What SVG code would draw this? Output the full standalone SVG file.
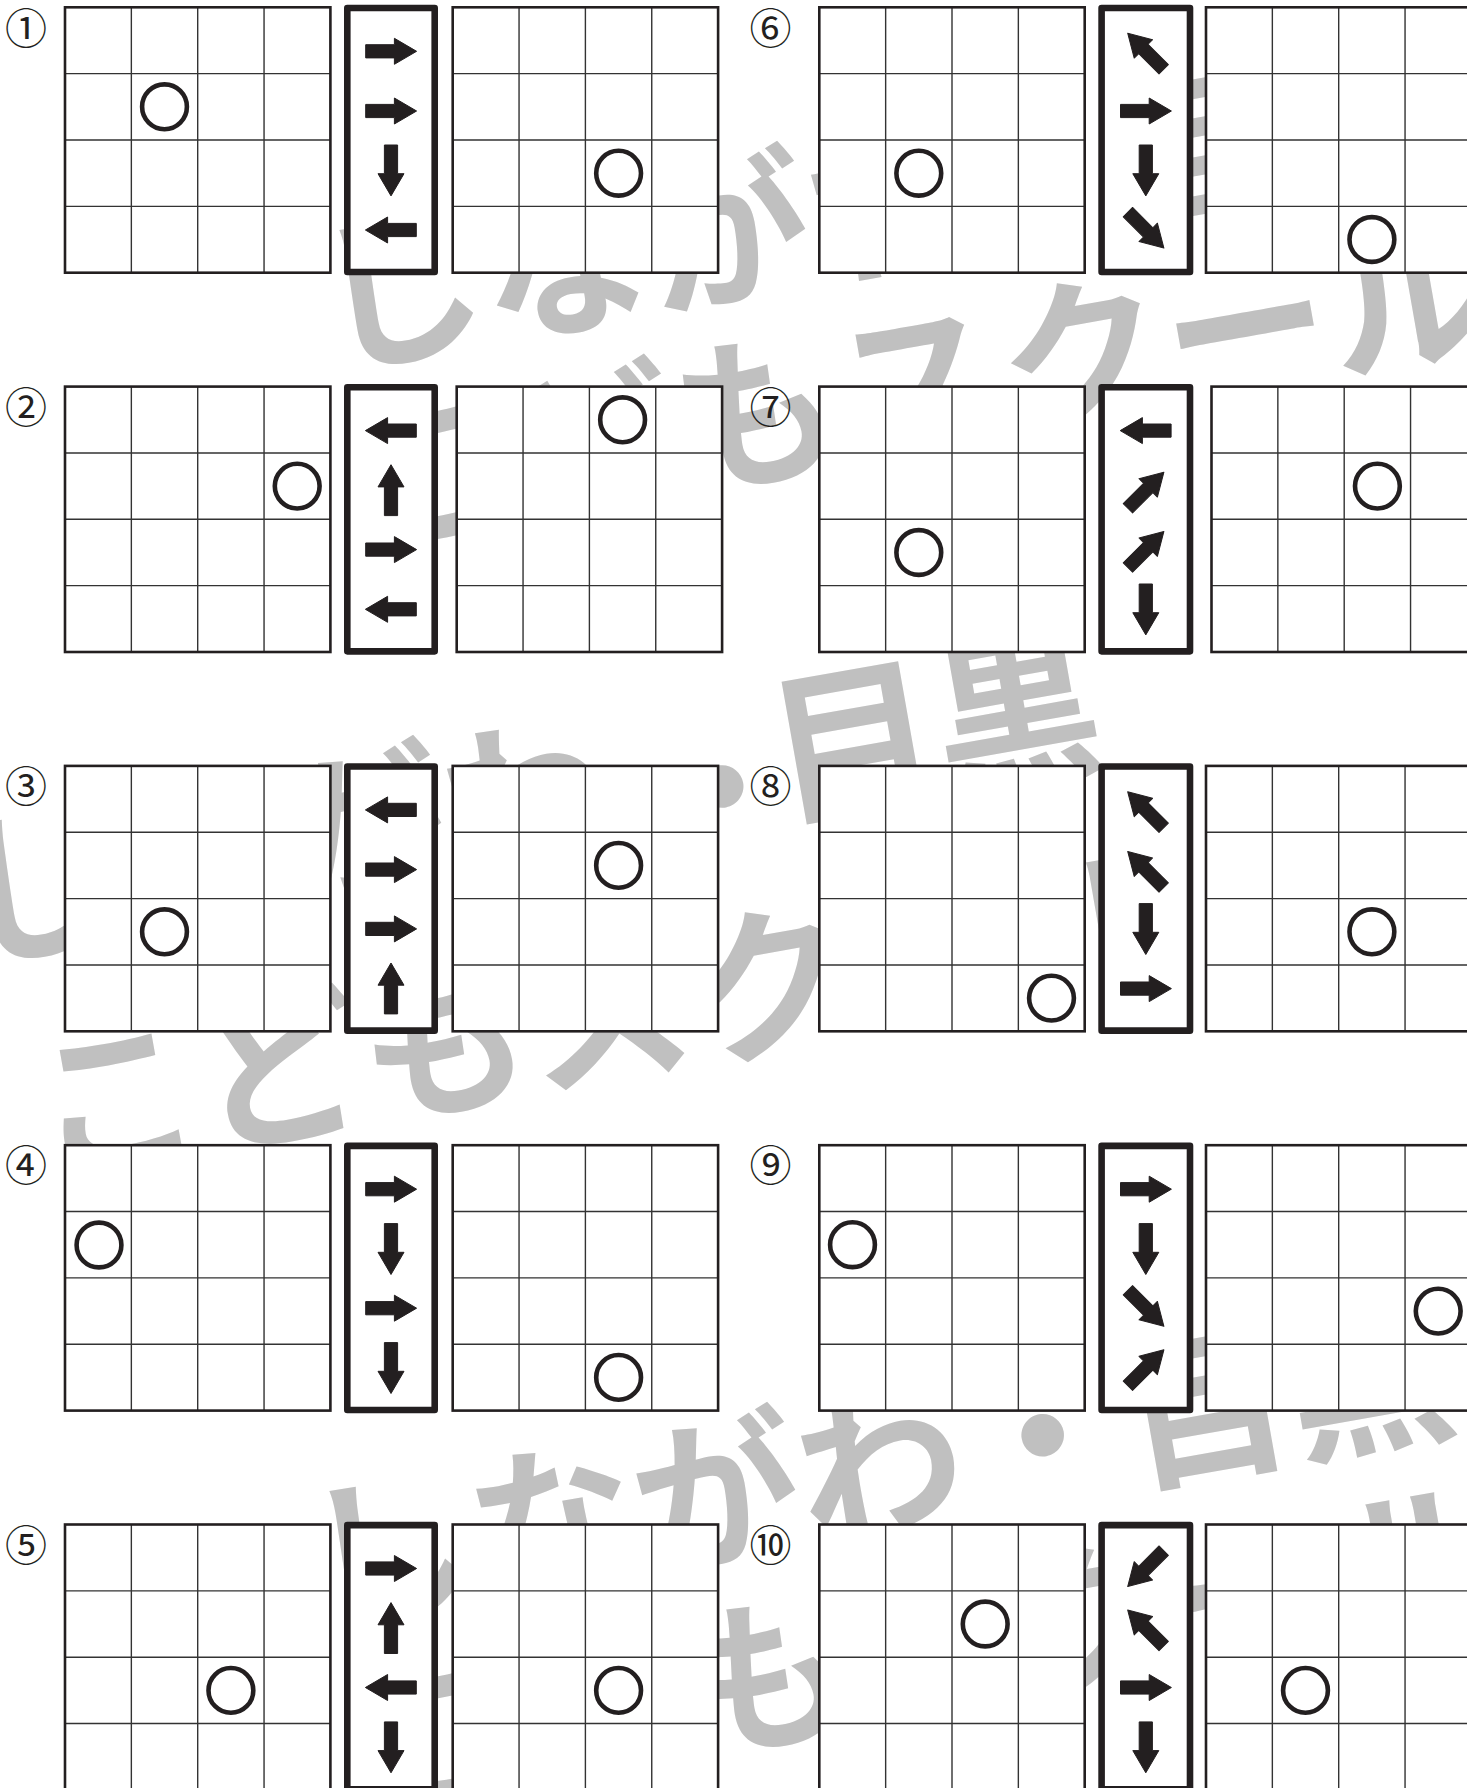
<svg xmlns="http://www.w3.org/2000/svg" xmlns:xlink="http://www.w3.org/1999/xlink" width="1467" height="1788" viewBox="0 0 1467 1788">
<style>
.wm{font-family:"Noto Sans CJK JP","Noto Sans CJK SC",sans-serif;font-size:166px;font-weight:700;fill:#c0c0c0}
.gi{fill:none;stroke:#333;stroke-width:1.4}
.go{fill:none;stroke:#231f20;stroke-width:2.6}
.box{fill:#fff;stroke:#231f20;stroke-width:6.6;stroke-linejoin:round}
.ball{fill:none;stroke:#231f20;stroke-width:4.6}
.num{font-family:"Noto Sans CJK JP","DejaVu Sans",sans-serif;font-size:42px;fill:#231f20;text-anchor:middle}
</style>
<defs>
<g id="grid">
<rect width="265.4" height="265.4" fill="#fff"/>
<path class="gi" d="M66.35,0V265.4M132.7,0V265.4M199.05,0V265.4M0,66.35H265.4M0,132.7H265.4M0,199.05H265.4"/>
<rect class="go" width="265.4" height="265.4"/>
</g>
<path id="arr" d="M-25.3,-6.6H3.4V-13L25.6,0L3.4,13V6.6H-25.3Z" fill="#231f20" stroke="#231f20" stroke-width="1" stroke-linejoin="round"/>
</defs>
<rect width="1467" height="1788" fill="#fff"/>
<g id="watermark">
<text class="wm" transform="translate(328,366) rotate(-10)">しながわ・目黒</text>
<text class="wm" transform="translate(357,546) rotate(-10)">こどもスクール</text>
<text class="wm" transform="translate(-36,960) rotate(-10)"><tspan>しながわ</tspan><tspan dx="30" dy="24">・</tspan><tspan dx="-30" dy="-24">目黒</tspan></text>
<text class="wm" transform="translate(45,1175) rotate(-10)">こどもスクール</text>
<text class="wm" transform="translate(318,1627) rotate(-10)">しながわ・目黒</text>
<text class="wm" transform="translate(369,1809) rotate(-10)">こどもスクール</text>
</g>
<g id="p1">
<text class="num" x="26" y="43.5">①</text>
<use href="#grid" x="65" y="7.3"/>
<circle class="ball" cx="164.5" cy="106.8" r="22.4"/>
<rect class="box" x="347.3" y="7.95" width="87.4" height="264.1"/>
<use href="#arr" transform="translate(391,51.3)"/>
<use href="#arr" transform="translate(391,111)"/>
<use href="#arr" transform="translate(391,170.3) rotate(90)"/>
<use href="#arr" transform="translate(391,230) rotate(180)"/>
<use href="#grid" x="452.7" y="7.3"/>
<circle class="ball" cx="618.6" cy="173.2" r="22.4"/>
</g>
<g id="p2">
<text class="num" x="26" y="422.8">②</text>
<use href="#grid" x="65" y="386.6"/>
<circle class="ball" cx="297.2" cy="486.1" r="22.4"/>
<rect class="box" x="347.3" y="387.25" width="87.4" height="264.1"/>
<use href="#arr" transform="translate(391,430.6) rotate(180)"/>
<use href="#arr" transform="translate(391,490.3) rotate(-90)"/>
<use href="#arr" transform="translate(391,549.6)"/>
<use href="#arr" transform="translate(391,609.3) rotate(180)"/>
<use href="#grid" x="456.7" y="386.6"/>
<circle class="ball" cx="622.6" cy="419.8" r="22.4"/>
</g>
<g id="p3">
<text class="num" x="26" y="802.1">③</text>
<use href="#grid" x="65" y="765.9"/>
<circle class="ball" cx="164.5" cy="931.8" r="22.4"/>
<rect class="box" x="347.3" y="766.55" width="87.4" height="264.1"/>
<use href="#arr" transform="translate(391,809.9) rotate(180)"/>
<use href="#arr" transform="translate(391,869.6)"/>
<use href="#arr" transform="translate(391,928.9)"/>
<use href="#arr" transform="translate(391,988.6) rotate(-90)"/>
<use href="#grid" x="452.7" y="765.9"/>
<circle class="ball" cx="618.6" cy="865.4" r="22.4"/>
</g>
<g id="p4">
<text class="num" x="26" y="1181.4">④</text>
<use href="#grid" x="65" y="1145.2"/>
<circle class="ball" cx="99" cy="1245" r="22.4"/>
<rect class="box" x="347.3" y="1145.85" width="87.4" height="264.1"/>
<use href="#arr" transform="translate(391,1189.2)"/>
<use href="#arr" transform="translate(391,1248.9) rotate(90)"/>
<use href="#arr" transform="translate(391,1308.2)"/>
<use href="#arr" transform="translate(391,1367.9) rotate(90)"/>
<use href="#grid" x="452.7" y="1145.2"/>
<circle class="ball" cx="618.6" cy="1377.4" r="22.4"/>
</g>
<g id="p5">
<text class="num" x="26" y="1560.7">⑤</text>
<use href="#grid" x="65" y="1524.5"/>
<circle class="ball" cx="230.9" cy="1690.4" r="22.4"/>
<rect class="box" x="347.3" y="1525.15" width="87.4" height="264.1"/>
<use href="#arr" transform="translate(391,1568.5)"/>
<use href="#arr" transform="translate(391,1628.2) rotate(-90)"/>
<use href="#arr" transform="translate(391,1687.5) rotate(180)"/>
<use href="#arr" transform="translate(391,1747.2) rotate(90)"/>
<use href="#grid" x="452.7" y="1524.5"/>
<circle class="ball" cx="618.6" cy="1690.4" r="22.4"/>
</g>
<g id="p6">
<text class="num" x="770.5" y="43.5">⑥</text>
<use href="#grid" x="819.3" y="7.3"/>
<circle class="ball" cx="918.8" cy="173.2" r="22.4"/>
<rect class="box" x="1101.6" y="7.95" width="88.4" height="264.1"/>
<use href="#arr" transform="translate(1145.8,51.3) rotate(-135)"/>
<use href="#arr" transform="translate(1145.8,111)"/>
<use href="#arr" transform="translate(1145.8,170.3) rotate(90)"/>
<use href="#arr" transform="translate(1145.8,230) rotate(45)"/>
<use href="#grid" x="1206" y="7.3"/>
<circle class="ball" cx="1371.9" cy="239.5" r="22.4"/>
</g>
<g id="p7">
<text class="num" x="770.5" y="422.8">⑦</text>
<use href="#grid" x="819.3" y="386.6"/>
<circle class="ball" cx="918.8" cy="552.5" r="22.4"/>
<rect class="box" x="1101.6" y="387.25" width="88.4" height="264.1"/>
<use href="#arr" transform="translate(1145.8,430.6) rotate(180)"/>
<use href="#arr" transform="translate(1145.8,490.3) rotate(-45)"/>
<use href="#arr" transform="translate(1145.8,549.6) rotate(-45)"/>
<use href="#arr" transform="translate(1145.8,609.3) rotate(90)"/>
<use href="#grid" x="1211.5" y="386.6"/>
<circle class="ball" cx="1377.4" cy="486.1" r="22.4"/>
</g>
<g id="p8">
<text class="num" x="770.5" y="802.1">⑧</text>
<use href="#grid" x="819.3" y="765.9"/>
<circle class="ball" cx="1051.5" cy="998.1" r="22.4"/>
<rect class="box" x="1101.6" y="766.55" width="88.4" height="264.1"/>
<use href="#arr" transform="translate(1145.8,809.9) rotate(-135)"/>
<use href="#arr" transform="translate(1145.8,869.6) rotate(-135)"/>
<use href="#arr" transform="translate(1145.8,928.9) rotate(90)"/>
<use href="#arr" transform="translate(1145.8,988.6)"/>
<use href="#grid" x="1206" y="765.9"/>
<circle class="ball" cx="1371.9" cy="931.8" r="22.4"/>
</g>
<g id="p9">
<text class="num" x="770.5" y="1181.4">⑨</text>
<use href="#grid" x="819.3" y="1145.2"/>
<circle class="ball" cx="852.5" cy="1244.7" r="22.4"/>
<rect class="box" x="1101.6" y="1145.85" width="88.4" height="264.1"/>
<use href="#arr" transform="translate(1145.8,1189.2)"/>
<use href="#arr" transform="translate(1145.8,1248.9) rotate(90)"/>
<use href="#arr" transform="translate(1145.8,1308.2) rotate(45)"/>
<use href="#arr" transform="translate(1145.8,1367.9) rotate(-45)"/>
<use href="#grid" x="1206" y="1145.2"/>
<circle class="ball" cx="1438.2" cy="1311.1" r="22.4"/>
</g>
<g id="p10">
<text class="num" x="770.5" y="1560.7">⑩</text>
<use href="#grid" x="819.3" y="1524.5"/>
<circle class="ball" cx="985.2" cy="1624" r="22.4"/>
<rect class="box" x="1101.6" y="1525.15" width="88.4" height="264.1"/>
<use href="#arr" transform="translate(1145.8,1568.5) rotate(135)"/>
<use href="#arr" transform="translate(1145.8,1628.2) rotate(-135)"/>
<use href="#arr" transform="translate(1145.8,1687.5)"/>
<use href="#arr" transform="translate(1145.8,1747.2) rotate(90)"/>
<use href="#grid" x="1206" y="1524.5"/>
<circle class="ball" cx="1305.5" cy="1690.4" r="22.4"/>
</g>
</svg>
